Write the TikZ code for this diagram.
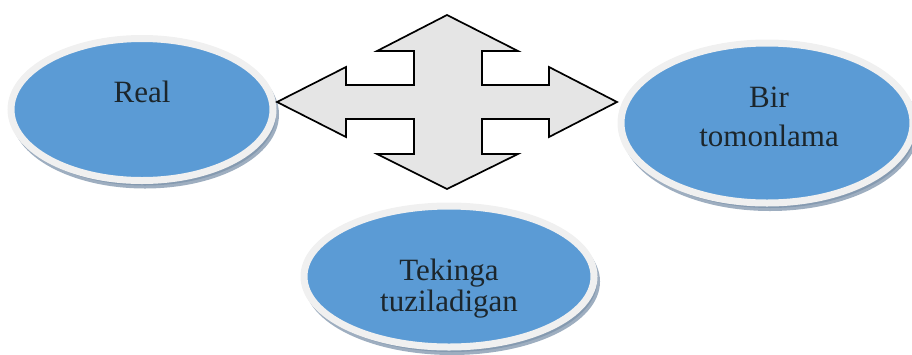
\documentclass[tikz,border=0pt]{standalone}
\usepackage{fontspec}
\setmainfont{Liberation Serif}
\usetikzlibrary{shapes.geometric, shadows, positioning}
\definecolor{ovalblue}{HTML}{5B9BD5}
\definecolor{ovalring}{HTML}{F0F0F0}
\definecolor{ovalshadow}{HTML}{7D93AB}
\definecolor{crossgray}{HTML}{E5E5E5}
\definecolor{labelink}{HTML}{1C262C}

\begin{document}
\begin{tikzpicture}[x=1pt, y=-1pt,
    oval/.style={ellipse, fill=ovalblue, draw=ovalring, line width=7pt, inner sep=0pt,
      drop shadow={shadow xshift=3pt, shadow yshift=-5pt, fill=ovalshadow,
        draw=ovalshadow, line width=6pt, opacity=.75}},
    ovaltext/.style={text=labelink, font=\fontsize{31}{39}\selectfont, align=center, inner sep=0pt},
    crossarrow/.style={fill=crossgray, draw=black, line width=1.7pt, line join=miter}]
  \useasboundingbox (0,0) rectangle (912,354);
  % the three ovals
  \node[oval, minimum width=262pt, minimum height=142pt] (real) at (142,109.5) {};
  \node[oval, minimum width=292pt, minimum height=160pt] (onesided) at (767,123) {};
  \node[oval, minimum width=290pt, minimum height=141pt] (plane) at (449,276.5) {};
  \node[ovaltext, anchor=base] (realtext) at (142,102) {Real};
  \node[ovaltext] (onesidedtext) at (769,117) {Bir\\tomonlama};
  \node[ovaltext, font=\fontsize{31}{31}\selectfont] (planetext) at (449,289) {Tekinga\\tuziladigan};
  % four-way arrow
  \coordinate (hub) at (447,102);
  \draw[crossarrow] (447,15) -- (518,51) -- (482,51) -- (482,85) -- (549,85) -- (549,67)
    -- (617,102) -- (549,137) -- (549,119) -- (482,119) -- (482,154) -- (518,154)
    -- (447,189) -- (377,154) -- (414,154) -- (414,119) -- (346,119) -- (346,137)
    -- (277,102) -- (346,67) -- (346,85) -- (414,85) -- (414,51) -- (377,51) -- cycle;
\end{tikzpicture}
\end{document}
